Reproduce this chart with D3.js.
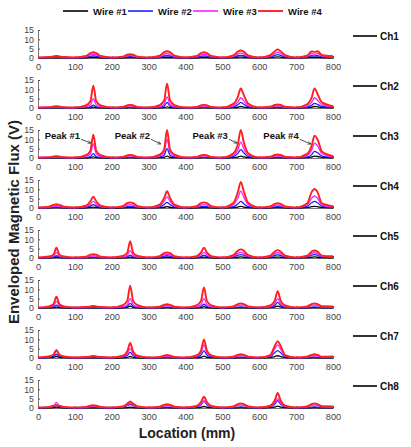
<!DOCTYPE html>
<html><head><meta charset="utf-8">
<script src="https://cdn.jsdelivr.net/npm/d3@7"></script>
<style>body{margin:0;background:#fff}svg{display:block}</style>
</head><body>
<svg id="c" width="411" height="447"></svg>
<script>
const locations = [0,30,42,50,58,70, 100,130,142,150,158,170, 200,230,242,250,258,270, 300,330,342,350,358,370,
  400,430,442,450,458,470, 500,530,542,550,558,570, 600,630,642,650,658,670, 700,730,742,750,758,770, 800];
const wireNames = ["Wire #1","Wire #2","Wire #3","Wire #4"];
const wireColors = ["#000000","#1f1fff","#ff1fff","#ff1f1f"];
const channelNames = ["Ch1","Ch2","Ch3","Ch4","Ch5","Ch6","Ch7","Ch8"];
const xTicks = [0,100,200,300,400,500,600,700,800];
const yTicks = [0,5,10,15];

// each channel: [Wire #1, Wire #2, Wire #3, Wire #4], values at `locations`
const ch1 = [
 [0,0.1,0.1,0.1,0.1,0.1, 0,0.1,0.3,0.4,0.3,0.1, 0,0.1,0.2,0.3,0.2,0.1, 0,0.2,0.4,0.4,0.4,0.2, 0,0.1,0.3,0.4,0.3,0.1, 0,0.2,0.4,0.5,0.4,0.2, 0,0.2,0.5,0.6,0.5,0.2, 0,0.2,0.4,0.4,0.4,0.2, 0.1],
 [0.1,0.2,0.3,0.4,0.3,0.2, 0.1,0.4,0.9,1.1,0.9,0.4, 0.1,0.3,0.6,0.7,0.6,0.3, 0.1,0.4,1.1,1.3,1.1,0.4, 0.1,0.4,0.9,1.1,0.9,0.4, 0.1,0.5,1.2,1.4,1.2,0.5, 0.1,0.6,1.4,1.8,1.4,0.6, 0.1,0.5,1.2,1.1,1.3,0.6, 0.3],
 [0.2,0.3,0.6,0.7,0.6,0.3, 0.2,0.7,1.7,2.0,1.7,0.7, 0.2,0.5,1.2,1.4,1.2,0.5, 0.2,0.8,2.0,2.4,2.0,0.8, 0.2,0.7,1.7,2.0,1.7,0.7, 0.2,0.9,2.2,2.6,2.2,0.9, 0.2,1.0,2.4,3.0,2.4,1.0, 0.2,0.8,2.3,2.1,2.4,1.0, 0.5],
 [0.3,0.5,0.9,1.1,0.9,0.5, 0.3,1.1,2.6,3.1,2.6,1.1, 0.3,0.7,1.8,2.1,1.8,0.7, 0.3,1.3,3.1,3.6,3.1,1.3, 0.3,1.1,2.6,3.1,2.6,1.1, 0.3,1.4,3.4,4.0,3.4,1.4, 0.3,1.6,3.6,4.6,3.6,1.6, 0.3,1.3,3.5,3.3,3.6,1.6, 0.9]
];
const ch2 = [
 [0,0.1,0.1,0.1,0.1,0.1, 0,0.1,0.2,0.5,0.2,0.1, 0,0.1,0.1,0.2,0.1,0.1, 0,0.1,0.2,0.6,0.2,0.1, 0,0.1,0.1,0.2,0.1,0.1, 0,0.2,0.4,0.8,0.5,0.2, 0,0.1,0.1,0.2,0.1,0.1, 0,0.2,0.4,0.8,0.6,0.3, 0.1],
 [0.1,0.1,0.2,0.3,0.2,0.1, 0.1,0.3,0.6,1.5,0.6,0.3, 0.1,0.2,0.3,0.4,0.3,0.2, 0.1,0.4,1.0,3.0,1.0,0.4, 0.1,0.2,0.3,0.4,0.3,0.2, 0.1,0.6,1.7,3.0,2.0,0.7, 0.1,0.2,0.4,0.5,0.4,0.2, 0.1,0.5,1.4,2.5,1.9,0.8, 0.3],
 [0.2,0.3,0.5,0.6,0.5,0.3, 0.2,0.7,1.6,5.0,1.6,0.7, 0.2,0.4,0.9,1.1,0.9,0.4, 0.2,0.8,2.0,6.0,2.0,0.8, 0.2,0.4,0.9,1.1,0.9,0.4, 0.2,1.2,3.2,5.5,3.8,1.3, 0.2,0.4,1.0,1.2,1.0,0.4, 0.2,1.1,3.0,5.5,4.2,1.8, 0.6],
 [0.3,0.4,0.8,1.0,0.8,0.4, 0.3,1.4,3.6,12.0,3.6,1.4, 0.3,0.6,1.4,1.7,1.4,0.6, 0.3,1.6,4.0,13.0,4.0,1.6, 0.3,0.6,1.4,1.7,1.4,0.6, 0.3,2.2,6.0,10.5,7.0,2.4, 0.3,0.7,1.6,1.9,1.6,0.7, 0.3,2.0,5.5,10.5,7.5,3.0, 1.0]
];
const ch3 = [
 [0,0.1,0.1,0.1,0.1,0.1, 0,0.1,0.2,0.6,0.2,0.1, 0,0.1,0.1,0.2,0.1,0.1, 0,0.2,0.4,1.0,0.4,0.2, 0,0.1,0.1,0.2,0.1,0.1, 0,0.2,0.5,1.0,0.6,0.2, 0,0.1,0.1,0.2,0.1,0.1, 0,0.2,0.5,1.0,0.8,0.3, 0.1],
 [0.1,0.1,0.2,0.3,0.2,0.1, 0.1,0.3,0.7,2.3,0.7,0.3, 0.1,0.2,0.3,0.4,0.3,0.2, 0.1,0.6,1.5,5.0,1.5,0.6, 0.1,0.2,0.3,0.4,0.3,0.2, 0.1,0.8,2.5,4.5,2.8,0.8, 0.1,0.2,0.4,0.5,0.4,0.2, 0.1,0.6,1.8,3.5,2.8,1.0, 0.3],
 [0.2,0.3,0.5,0.6,0.5,0.3, 0.2,0.9,2.3,7.5,2.3,0.9, 0.2,0.4,0.9,1.1,0.9,0.4, 0.2,1.2,3.0,10.0,3.0,1.2, 0.2,0.4,0.9,1.1,0.9,0.4, 0.2,1.5,4.5,8.5,5.0,1.5, 0.2,0.4,1.0,1.2,1.0,0.4, 0.2,1.4,4.2,8.0,6.5,2.3, 0.6],
 [0.3,0.4,0.8,1.0,0.8,0.4, 0.3,1.5,3.8,12.5,3.8,1.5, 0.3,0.6,1.4,1.7,1.4,0.6, 0.3,1.8,4.5,15.0,4.5,1.8, 0.3,0.6,1.4,1.7,1.4,0.6, 0.3,2.5,7.5,15.0,8.5,2.5, 0.3,0.7,1.6,1.9,1.6,0.7, 0.3,2.2,6.5,12.0,10.0,3.5, 1.0]
];
const ch4 = [
 [0,0.1,0.2,0.2,0.2,0.1, 0,0.1,0.3,0.5,0.3,0.1, 0,0.1,0.2,0.3,0.2,0.1, 0,0.2,0.4,0.7,0.4,0.2, 0,0.1,0.2,0.3,0.2,0.1, 0,0.2,0.5,0.9,0.5,0.2, 0,0.1,0.2,0.3,0.2,0.1, 0,0.3,0.7,0.9,0.7,0.3, 0.1],
 [0.1,0.2,0.5,0.6,0.5,0.2, 0.1,0.4,1.1,1.8,1.1,0.4, 0.1,0.3,0.7,0.8,0.7,0.3, 0.1,0.6,1.8,3.0,1.8,0.6, 0.1,0.3,0.7,0.8,0.7,0.3, 0.1,0.7,2.1,3.5,2.3,0.7, 0.1,0.3,0.6,0.7,0.6,0.3, 0.1,0.9,2.8,3.5,2.8,0.9, 0.3],
 [0.2,0.4,1.0,1.2,1.0,0.4, 0.2,0.7,2.1,3.5,2.1,0.7, 0.2,0.6,1.5,1.8,1.5,0.6, 0.2,1.2,3.6,6.0,3.6,1.2, 0.2,0.6,1.5,1.8,1.5,0.6, 0.2,1.8,5.4,9.0,5.8,1.8, 0.2,0.5,1.4,1.6,1.4,0.5, 0.2,1.6,5.2,6.5,5.2,1.6, 0.6],
 [0.3,0.7,1.7,2.0,1.7,0.7, 0.3,1.2,3.6,6.0,3.6,1.2, 0.3,1.0,2.6,3.0,2.6,1.0, 0.3,1.8,5.4,9.0,5.4,1.8, 0.3,1.0,2.6,3.0,2.6,1.0, 0.3,2.8,8.5,14.0,9.0,2.8, 0.3,0.9,2.2,2.6,2.2,0.9, 0.3,2.5,8.5,10.2,8.5,2.5, 1.0]
];
const ch5 = [
 [0,0.1,0.2,0.4,0.2,0.1, 0,0.1,0.1,0.2,0.1,0.1, 0,0.1,0.2,0.5,0.2,0.1, 0,0.1,0.3,0.4,0.3,0.1, 0,0.1,0.3,0.5,0.3,0.1, 0,0.2,0.4,0.6,0.4,0.2, 0,0.2,0.4,0.5,0.4,0.2, 0,0.2,0.4,0.6,0.4,0.2, 0.1],
 [0.1,0.2,0.5,1.2,0.5,0.2, 0.1,0.2,0.4,0.5,0.4,0.2, 0.1,0.3,0.6,1.5,0.6,0.3, 0.1,0.4,1.0,1.2,1.0,0.4, 0.1,0.3,0.8,1.5,0.8,0.3, 0.1,0.6,1.5,1.8,1.5,0.6, 0.1,0.6,1.4,1.7,1.4,0.6, 0.1,0.6,1.5,1.8,1.5,0.6, 0.3],
 [0.2,0.5,1.0,3.0,1.0,0.5, 0.2,0.4,1.0,1.2,1.0,0.4, 0.2,0.6,1.4,4.0,1.4,0.6, 0.2,0.7,1.7,2.0,1.7,0.7, 0.2,0.6,1.7,3.0,1.7,0.6, 0.2,1.0,2.5,3.0,2.5,1.0, 0.2,0.9,2.3,2.8,2.3,0.9, 0.2,0.9,2.3,2.8,2.3,0.9, 0.6],
 [0.3,0.8,1.8,5.5,1.8,0.8, 0.3,0.7,1.8,2.1,1.8,0.7, 0.3,1.1,2.8,9.0,2.8,1.1, 0.3,1.0,2.6,3.0,2.6,1.0, 0.3,1.0,3.0,5.5,3.0,1.0, 0.3,1.6,3.9,4.6,3.9,1.6, 0.3,1.3,3.4,4.2,3.4,1.3, 0.3,1.3,3.4,4.0,3.4,1.3, 0.9]
];
const ch6 = [
 [0,0.1,0.2,0.5,0.2,0.1, 0,0.1,0.1,0.1,0.1,0.1, 0,0.1,0.3,1.0,0.3,0.1, 0,0.1,0.1,0.2,0.1,0.1, 0,0.1,0.2,0.7,0.2,0.1, 0,0.1,0.2,0.2,0.2,0.1, 0,0.2,0.5,1.0,0.5,0.2, 0,0.1,0.2,0.2,0.2,0.1, 0.1],
 [0.1,0.3,0.6,1.5,0.6,0.3, 0.1,0.1,0.2,0.3,0.2,0.1, 0.1,0.4,0.9,2.5,0.9,0.4, 0.1,0.2,0.4,0.5,0.4,0.2, 0.1,0.3,0.8,2.0,0.8,0.3, 0.1,0.2,0.5,0.6,0.5,0.2, 0.1,0.5,1.4,3.0,1.4,0.5, 0.1,0.2,0.5,0.6,0.5,0.2, 0.2],
 [0.2,0.6,1.3,3.5,1.3,0.6, 0.2,0.3,0.6,0.7,0.6,0.3, 0.2,0.7,1.8,5.0,1.8,0.7, 0.2,0.5,1.1,1.3,1.1,0.5, 0.2,0.7,1.9,5.0,1.9,0.7, 0.2,0.6,1.4,1.6,1.4,0.6, 0.2,0.8,2.3,5.0,2.3,0.8, 0.2,0.6,1.4,1.6,1.4,0.6, 0.5],
 [0.3,0.9,2.0,6.0,2.0,0.9, 0.3,0.5,0.9,1.1,0.9,0.5, 0.3,1.5,3.8,12.0,3.8,1.5, 0.3,0.7,1.7,2.0,1.7,0.7, 0.3,1.4,3.8,11.0,3.8,1.4, 0.3,0.9,2.1,2.5,2.1,0.9, 0.3,1.4,4.0,9.0,4.0,1.4, 0.3,0.9,2.1,2.5,2.1,0.9, 0.8]
];
const ch7 = [
 [0,0.2,0.4,0.8,0.4,0.2, 0,0.1,0.1,0.1,0.1,0.1, 0,0.1,0.3,0.8,0.3,0.1, 0,0.1,0.1,0.2,0.1,0.1, 0,0.2,0.4,1.0,0.4,0.2, 0,0.1,0.1,0.2,0.1,0.1, 0,0.2,0.8,1.2,0.8,0.2, 0,0.1,0.1,0.2,0.1,0.1, 0.1],
 [0.1,0.4,0.9,2.0,0.9,0.4, 0.1,0.1,0.2,0.3,0.2,0.1, 0.1,0.5,1.3,3.0,1.3,0.5, 0.1,0.2,0.3,0.4,0.3,0.2, 0.1,0.6,1.6,4.0,1.6,0.6, 0.1,0.2,0.4,0.5,0.4,0.2, 0.1,0.7,2.8,4.0,2.8,0.7, 0.1,0.2,0.4,0.5,0.4,0.2, 0.2],
 [0.2,0.8,1.9,4.5,1.9,0.8, 0.2,0.3,0.6,0.7,0.6,0.3, 0.2,0.8,2.2,5.0,2.2,0.8, 0.2,0.4,0.8,1.0,0.8,0.4, 0.2,1.0,2.8,7.0,2.8,1.0, 0.2,0.5,1.1,1.3,1.1,0.5, 0.2,1.2,4.8,7.0,4.8,1.2, 0.2,0.5,1.1,1.3,1.1,0.5, 0.5],
 [0.3,0.8,1.8,4.0,1.8,0.8, 0.3,0.5,0.9,1.1,0.9,0.5, 0.3,1.2,3.5,8.0,3.5,1.2, 0.3,0.6,1.3,1.6,1.3,0.6, 0.3,1.4,4.0,10.0,4.0,1.4, 0.3,0.7,1.7,2.0,1.7,0.7, 0.3,1.6,6.5,9.0,6.5,1.6, 0.3,0.7,1.7,2.0,1.7,0.7, 0.8]
];
const ch8 = [
 [0,0.1,0.2,0.5,0.2,0.1, 0,0.1,0.1,0.1,0.1,0.1, 0,0.1,0.2,0.5,0.2,0.1, 0,0.1,0.1,0.2,0.1,0.1, 0,0.2,0.4,0.8,0.4,0.2, 0,0.1,0.1,0.2,0.1,0.1, 0,0.2,0.5,1.0,0.5,0.2, 0,0.1,0.1,0.2,0.1,0.1, 0.1],
 [0.1,0.3,0.6,1.5,0.6,0.3, 0.1,0.2,0.3,0.4,0.3,0.2, 0.1,0.5,1.2,2.0,1.2,0.5, 0.1,0.2,0.4,0.5,0.4,0.2, 0.1,0.6,1.8,3.5,1.8,0.6, 0.1,0.2,0.5,0.6,0.5,0.2, 0.1,0.7,2.0,4.0,2.0,0.7, 0.1,0.2,0.5,0.6,0.5,0.2, 0.2],
 [0.2,0.5,1.0,3.0,1.0,0.5, 0.2,0.4,0.8,1.0,0.8,0.4, 0.2,0.6,1.6,2.5,1.6,0.6, 0.2,0.5,1.1,1.3,1.1,0.5, 0.2,0.8,2.2,4.0,2.2,0.8, 0.2,0.6,1.4,1.6,1.4,0.6, 0.2,0.9,2.6,5.0,2.6,0.9, 0.2,0.6,1.4,1.6,1.4,0.6, 0.5],
 [0.3,0.6,1.2,1.5,1.2,0.6, 0.3,0.6,1.3,1.5,1.3,0.6, 0.3,0.9,2.3,3.5,2.3,0.9, 0.3,0.7,1.7,2.0,1.7,0.7, 0.3,1.1,3.2,6.0,3.2,1.1, 0.3,0.9,2.1,2.5,2.1,0.9, 0.3,1.3,4.0,8.0,4.0,1.3, 0.3,0.9,2.1,2.5,2.1,0.9, 0.8]
];
const channels = [ch1, ch2, ch3, ch4, ch5, ch6, ch7, ch8];

// Peak annotations on Ch3 (data coords)
const peakLabels = ["Peak #1","Peak #2","Peak #3","Peak #4"];
const peakTextX = [114, 304, 515, 707];
const peakTipX = [144, 333, 540, 740];
const peakTipY = [8, 7.5, 8, 7.5];

const FONT = "'Liberation Sans', Arial, Helvetica, sans-serif";
const svg = d3.select("#c");
const x = d3.scaleLinear().domain([0, 800]).range([38, 333]);
const panelTop0 = 30, panelStep = 50, panelH = 28;

svg.append("defs").append("marker").attr("id","arr").attr("viewBox","0 0 10 10")
  .attr("refX",9).attr("refY",5).attr("markerWidth",5).attr("markerHeight",5).attr("orient","auto")
  .append("path").attr("d","M1,1 L9,5 L1,9").attr("fill","none").attr("stroke","#222").attr("stroke-width",1.4);

channels.forEach((ch, k) => {
  const top = panelTop0 + panelStep * k;
  const y = d3.scaleLinear().domain([0, 15]).range([top + panelH, top]);
  const g = svg.append("g");

  // y axis
  const ya = g.append("g").attr("transform", `translate(${x(0)},0)`)
    .call(d3.axisLeft(y).tickValues(yTicks).tickSize(-2).tickPadding(4));
  ya.select(".domain").attr("stroke", "#555").attr("stroke-width", 0.8);
  ya.selectAll(".tick line").attr("stroke", "#555");
  ya.selectAll("text").attr("font-family", FONT).attr("font-size", 8.8).attr("fill", "#444");

  // x axis
  const xa = g.append("g").attr("transform", `translate(0,${y(0)})`)
    .call(d3.axisBottom(x).tickValues(xTicks).tickSize(-2).tickPadding(5.5));
  xa.select(".domain").attr("stroke", "#555").attr("stroke-width", 0.8);
  xa.selectAll(".tick line").attr("stroke", "#555");
  xa.selectAll("text").attr("font-family", FONT).attr("font-size", 9.2).attr("fill", "#444");

  const line = d3.line().x((d, i) => x(locations[i])).y(d => y(d)).curve(d3.curveMonotoneX);
  ch.forEach((series, w) => {
    g.append("path").attr("d", line(series)).attr("fill", "none")
      .attr("stroke", wireColors[w]).attr("stroke-width", w === 3 ? 1.9 : 1.3)
      .attr("stroke-linejoin", "round");
  });

  // channel label
  const ly = top + 6;
  g.append("line").attr("x1", 353).attr("x2", 377).attr("y1", ly).attr("y2", ly)
    .attr("stroke", "#000").attr("stroke-width", 1.6);
  g.append("text").attr("x", 380).attr("y", ly + 3.5).text(channelNames[k])
    .attr("font-family", FONT).attr("font-size", 10).attr("font-weight", "bold").attr("fill", "#111");

  if (k === 2) {
    peakLabels.forEach((lab, i) => {
      g.append("text").attr("x", x(peakTextX[i])).attr("y", y(10.2)).attr("text-anchor", "end")
        .text(lab).attr("font-family", FONT).attr("font-size", 9.5).attr("font-weight", "bold").attr("fill", "#111");
      g.append("line").attr("x1", x(peakTextX[i]) + 1).attr("y1", y(10))
        .attr("x2", x(peakTipX[i])).attr("y2", y(peakTipY[i]))
        .attr("stroke", "#222").attr("stroke-width", 0.8).attr("marker-end", "url(#arr)");
    });
  }
});

// legend
const legX0 = 63, legStep = 65, legY = 11;
wireNames.forEach((n, i) => {
  const lx = legX0 + legStep * i;
  svg.append("line").attr("x1", lx).attr("x2", lx + 25).attr("y1", legY).attr("y2", legY)
    .attr("stroke", wireColors[i]).attr("stroke-width", i === 3 ? 1.9 : 1.6);
  svg.append("text").attr("x", lx + 30).attr("y", legY + 3.5).text(n)
    .attr("font-family", FONT).attr("font-size", 9.5).attr("font-weight", "bold").attr("fill", "#111");
});

// axis titles
svg.append("text").attr("transform", "translate(19,222) rotate(-90)").attr("text-anchor", "middle")
  .text("Enveloped Magnetic Flux (V)").attr("font-family", FONT).attr("font-size", 15)
  .attr("font-weight", "bold").attr("fill", "#222");
svg.append("text").attr("x", 187).attr("y", 438).attr("text-anchor", "middle")
  .text("Location (mm)").attr("font-family", FONT).attr("font-size", 14)
  .attr("font-weight", "bold").attr("fill", "#222");
</script>
</body></html>
